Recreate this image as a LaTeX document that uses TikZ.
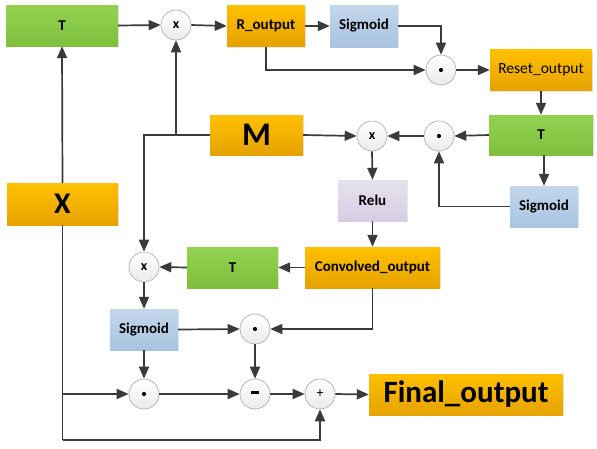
\documentclass[tikz,border=0pt]{standalone}
\usepackage{fontspec}
\setmainfont{Carlito}
\usetikzlibrary{arrows.meta,shadows,calc}
\definecolor{lineC}{HTML}{3A3A3A}
\definecolor{orT}{HTML}{FFC000}
\definecolor{orB}{HTML}{E6A200}
\definecolor{grT}{HTML}{94D251}
\definecolor{grB}{HTML}{7DC03E}
\definecolor{blT}{HTML}{C3D6EB}
\definecolor{blB}{HTML}{A9C4E0}
\definecolor{lvT}{HTML}{E6E1EE}
\definecolor{lvB}{HTML}{D6CDE2}
\definecolor{ciB}{HTML}{A6A6A6}
\tikzset{
  box/.style={rectangle, inner sep=0pt, font=\bfseries\fontsize{15}{15}\selectfont,
     drop shadow={opacity=0.18, shadow xshift=1.2pt, shadow yshift=-1.2pt}},
  orbox/.style={box, top color=orT, bottom color=orB},
  grbox/.style={box, top color=grT, bottom color=grB},
  blbox/.style={box, top color=blT, bottom color=blB},
  lvbox/.style={box, top color=lvT, bottom color=lvB},
  opc/.style={circle, minimum size=30pt, inner sep=0pt, draw=ciB, line width=0.6pt,
     top color=white, bottom color=black!8, font=\bfseries\fontsize{14}{14}\selectfont},
  conn/.style={draw=lineC, line width=1.7pt, -{Triangle[length=12pt,width=10pt]}},
  plain/.style={draw=lineC, line width=1.7pt},
  dotmark/.style={fill=black}
}
\begin{document}
\begin{tikzpicture}[x=1pt,y=-1pt]
\useasboundingbox (0,0) rectangle (597,448);
% boxes
\node[grbox, minimum width=112pt, minimum height=41pt] (T1) at (62,25.5) {T};
\node[opc] (xa) at (176,25) {x};
\node[orbox, minimum width=78pt, minimum height=41pt] (R) at (266,26) {R\_output};
\node[blbox, minimum width=68pt, minimum height=42pt] (S1) at (364,26) {Sigmoid};
\node[opc] (d1) at (441,70) {};
\node[orbox, minimum width=102pt, minimum height=41pt, font=\fontsize{15.5}{15.5}\selectfont] (Re) at (541,70) {Reset\_output};
\node[grbox, minimum width=104pt, minimum height=40pt] (T2) at (541,135) {T};
\node[opc] (d2) at (439,136) {};
\node[opc] (xb) at (372,136) {x};
\node[orbox, minimum width=93pt, minimum height=40pt, font=\bfseries\fontsize{33}{33}\selectfont] (M) at (256.5,135) {M};
\node[blbox, minimum width=68pt, minimum height=41pt] (S2) at (544,206.5) {Sigmoid};
\node[lvbox, minimum width=69pt, minimum height=41pt] (Relu) at (372.5,200.5) {Relu};
\node[orbox, minimum width=135pt, minimum height=41pt] (C) at (372.5,267.5) {Convolved\_output};
\node[grbox, minimum width=91pt, minimum height=41pt] (T3) at (232.5,267.5) {T};
\node[opc] (xc) at (144,267) {x};
\node[orbox, minimum width=111pt, minimum height=42pt, font=\bfseries\fontsize{30}{30}\selectfont] (X) at (62.5,204) {X};
\node[blbox, minimum width=68pt, minimum height=41pt] (S3) at (144,329.5) {Sigmoid};
\node[opc] (d3) at (255,329) {};
\node[opc] (d4) at (144,394) {};
\node[opc] (mi) at (255,394) {\rule[3.6pt]{8pt}{2.6pt}};
\node[opc, font=\fontsize{14}{14}\selectfont] (pl) at (320,394) {+};
\node[orbox, minimum width=194pt, minimum height=41pt, font=\bfseries\fontsize{31}{31}\selectfont] (F) at (466,394.5) {Final\_output};
% dot marks
\foreach \n in {d1,d2,d3,d4} \fill[dotmark] (\n.center) circle (2.1pt);
% junctions
\coordinate (jm) at (xa.south |- M.west);
\coordinate (jb) at (X.south |- 0,440);
\coordinate (jd) at (X.south |- d4.west);
% connectors
\draw[conn] (X.north) -- (T1.south);
\draw[conn] (T1.east) -- (xa.west);
\draw[conn] (xa.east) -- (R.west);
\draw[conn] (R.east) -- (S1.west);
\draw[conn] (S1.east) -| (d1.north);
\draw[conn] (R.south) |- (d1.west);
\draw[conn] (d1.east) -- (Re.west);
\draw[conn] (Re.south) -- (T2.north);
\draw[conn] (T2.west) -- (d2.east);
\draw[conn] (d2.west) -- (xb.east);
\draw[conn] (M.east) -- (xb.west);
\draw[conn] (T2.south -| S2.north) -- (S2.north);
\draw[conn] (S2.west) -| (d2.south);
\draw[conn] (xb.south) -- (Relu.north);
\draw[conn] (Relu.south) -- (C.north);
\draw[conn] (C.west) -- (T3.east);
\draw[conn] (T3.west) -- (xc.east);
\draw[conn] (M.west) -| (xc.north);
\draw[conn] (jm) -- (xa.south);
\draw[conn] (xc.south) -- (S3.north);
\draw[conn] (S3.east) -- (d3.west);
\draw[conn] (C.south) |- (d3.east);
\draw[conn] (d3.south) -- (mi.north);
\draw[conn] (S3.south) -- (d4.north);
\draw[conn] (d4.east) -- (mi.west);
\draw[conn] (mi.east) -- (pl.west);
\draw[conn] (pl.east) -- (F.west);
\draw[plain] (X.south) -- (jb);
\draw[conn] (jb) -| (pl.south);
\draw[conn] (jd) -- (d4.west);
\end{tikzpicture}
\end{document}
